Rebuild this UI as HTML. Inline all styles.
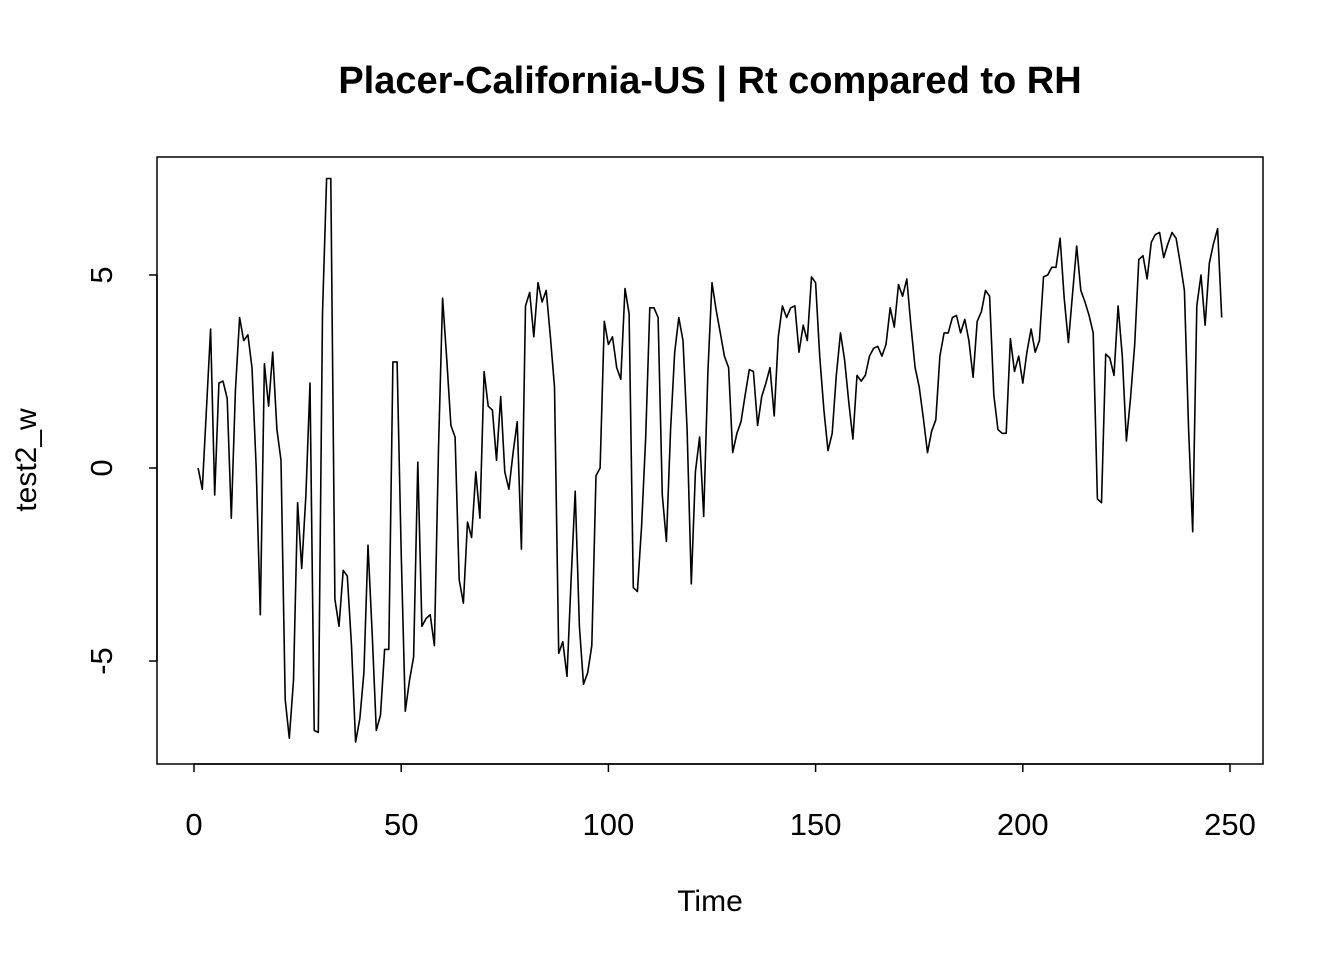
<!DOCTYPE html>
<html><head><meta charset="utf-8"><style>
body{margin:0;background:#fff}
svg text{font-family:"Liberation Sans",Arial,sans-serif;fill:#000}
</style></head><body>
<svg width="1344" height="960" viewBox="0 0 1344 960">
<text x="710" y="93" font-size="38" font-weight="bold" text-anchor="middle">Placer-California-US | Rt compared to RH</text>
<rect x="157" y="157" width="1106" height="607" fill="none" stroke="#000" stroke-width="1.5"/>
<g id="xaxis"></g>
<g id="yaxis"></g>
<text x="710" y="911" font-size="30" text-anchor="middle">Time</text>
<text transform="translate(36,460) rotate(-90)" font-size="30" text-anchor="middle">test2_w</text>
<path id="series" fill="none" stroke="#000" stroke-width="1.6" stroke-linejoin="round"/>
</svg>
<script>
const xTicks=[0,50,100,150,200,250];
const yTicks=[-5,0,5];
const values=[0,-0.55,1.5,3.6,-0.7,2.2,2.25,1.8,-1.3,2.0,3.9,3.3,3.45,2.6,0,-3.8,2.7,1.6,3.0,1.0,0.2,-6.0,-7.0,-5.5,-0.9,-2.6,-0.7,2.2,-6.8,-6.85,4.0,7.5,7.5,-3.4,-4.1,-2.65,-2.8,-4.6,-7.1,-6.5,-5.3,-2.0,-4.3,-6.8,-6.4,-4.7,-4.7,2.75,2.75,-2.2,-6.3,-5.5,-4.9,0.15,-4.1,-3.9,-3.8,-4.6,0.5,4.4,2.8,1.1,0.8,-2.9,-3.5,-1.4,-1.8,-0.1,-1.3,2.5,1.6,1.5,0.2,1.85,-0.1,-0.55,0.4,1.2,-2.1,4.2,4.55,3.4,4.8,4.3,4.6,3.4,2.1,-4.8,-4.5,-5.4,-2.9,-0.6,-4.1,-5.6,-5.3,-4.6,-0.2,0,3.8,3.2,3.4,2.6,2.3,4.65,4.0,-3.1,-3.2,-1.5,0.8,4.15,4.15,3.9,-0.7,-1.9,1.0,3.0,3.9,3.3,1.0,-3.0,-0.1,0.8,-1.25,2.5,4.8,4.1,3.5,2.9,2.6,0.4,0.9,1.2,1.9,2.55,2.5,1.1,1.85,2.2,2.6,1.35,3.4,4.2,3.9,4.15,4.2,3.0,3.7,3.3,4.95,4.8,2.9,1.5,0.45,0.9,2.4,3.5,2.8,1.7,0.75,2.4,2.25,2.4,2.9,3.1,3.15,2.9,3.2,4.15,3.65,4.75,4.45,4.9,3.7,2.6,2.1,1.3,0.4,0.95,1.25,2.9,3.5,3.5,3.9,3.95,3.5,3.85,3.3,2.35,3.8,4.05,4.6,4.45,1.9,1.0,0.9,0.9,3.35,2.5,2.9,2.2,3.0,3.6,3.0,3.3,4.95,5.0,5.2,5.2,5.95,4.4,3.25,4.5,5.75,4.6,4.3,3.95,3.5,-0.8,-0.9,2.95,2.85,2.4,4.2,2.9,0.7,1.8,3.2,5.4,5.5,4.9,5.85,6.05,6.1,5.45,5.8,6.1,5.95,5.3,4.6,1.0,-1.65,4.2,5.0,3.7,5.3,5.8,6.2,3.9];
const xs=t=>194+(t/250)*1036;
const ys=v=>468-v*38.6;
const NS="http://www.w3.org/2000/svg";
const xa=document.getElementById('xaxis'), ya=document.getElementById('yaxis');
function mk(tag,attrs,parent){const e=document.createElementNS(NS,tag);for(const k in attrs)e.setAttribute(k,attrs[k]);parent.appendChild(e);return e;}
let l=mk('line',{x1:xs(0),x2:xs(250),y1:764,y2:764,stroke:'#000','stroke-width':1.5},xa);


xTicks.forEach(t=>{
 const tk=mk('line',{x1:xs(t),x2:xs(t),y1:764,y2:772,stroke:'#000','stroke-width':1.5},xa);
 
 
 const tx=mk('text',{x:xs(t),y:835,'font-size':31,'text-anchor':'middle'},xa);
 tx.textContent=t;
 
 
});
l=mk('line',{x1:157,x2:157,y1:ys(-5),y2:ys(5),stroke:'#000','stroke-width':1.5},ya);


yTicks.forEach(v=>{
 const tk=mk('line',{x1:149,x2:157,y1:ys(v),y2:ys(v),stroke:'#000','stroke-width':1.5},ya);
 
 
 const tx=mk('text',{transform:`translate(112,${ys(v)}) rotate(-90)`,'font-size':31,'text-anchor':'middle'},ya);
 tx.textContent=v;
 
 
});
document.getElementById('series').setAttribute('d',values.map((v,i)=>(i?'L':'M')+xs(i+1).toFixed(1)+','+ys(v).toFixed(1)).join(''));
</script>
</body></html>
